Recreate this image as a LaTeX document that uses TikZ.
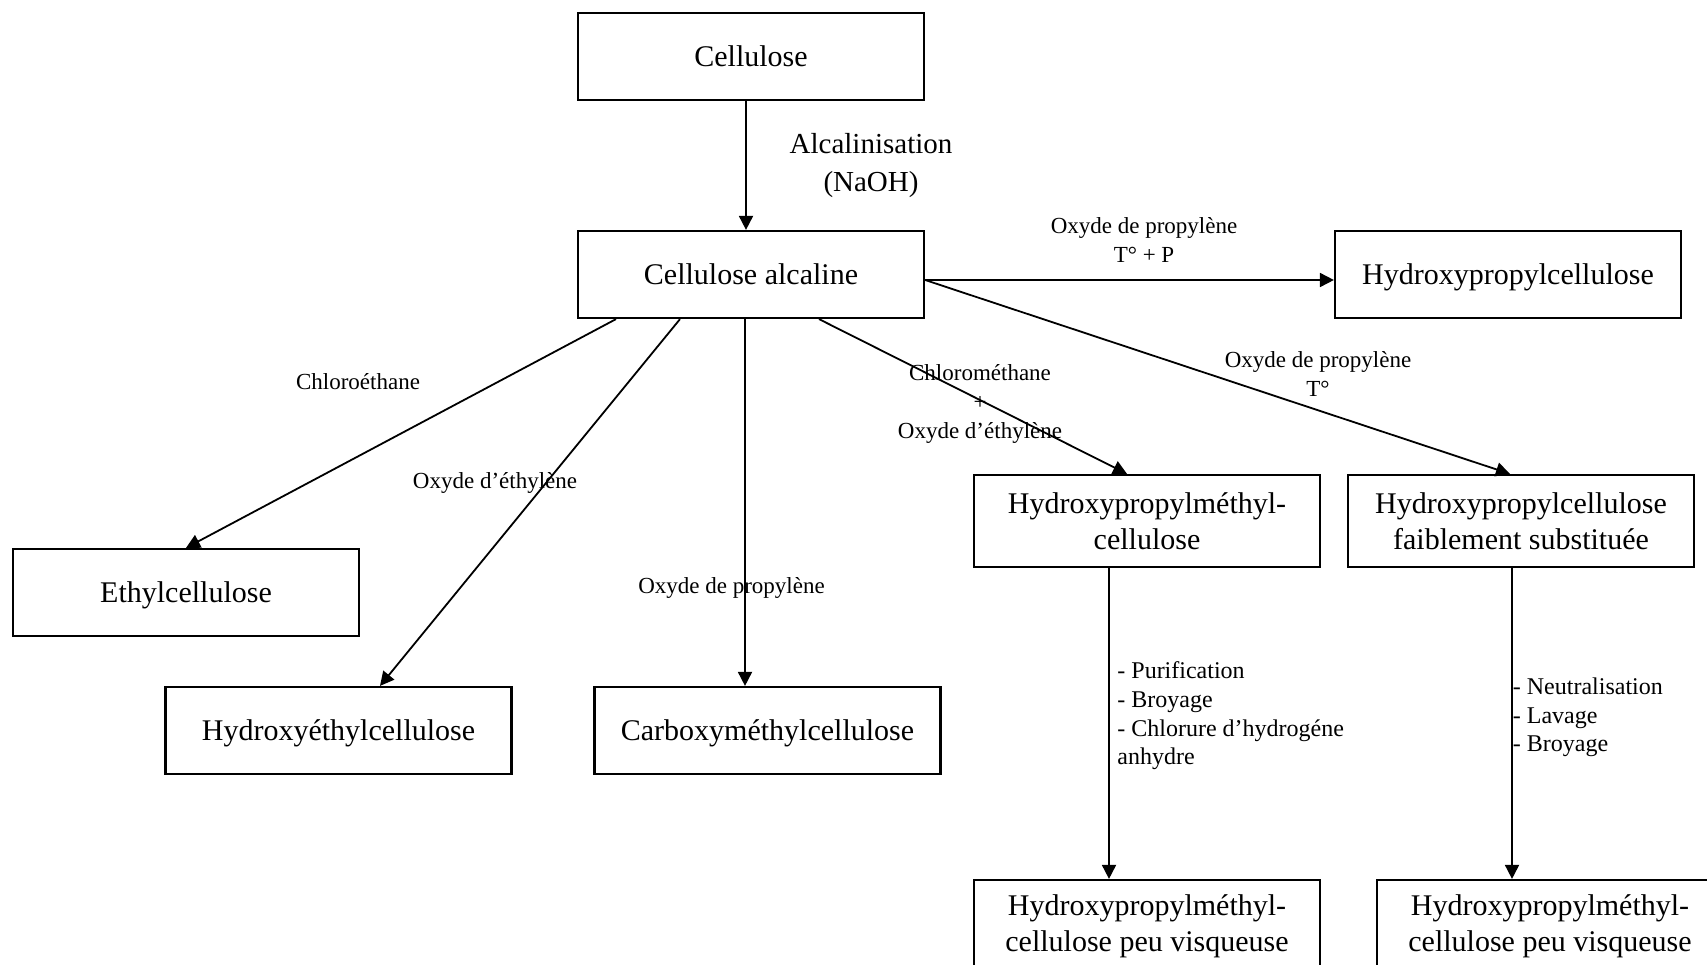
\documentclass[tikz,border=0pt]{standalone}
\usepackage{fontspec}
\setmainfont{Liberation Serif}
\usetikzlibrary{arrows.meta}
\tikzset{
  box/.style={draw, line width=1.1pt, minimum width=173pt, minimum height=43.5pt,
    font=\fontsize{15}{18}\selectfont, align=center, inner sep=0pt},
  box1/.style={box, text depth=0pt},
  box2/.style={box, minimum height=46pt},
  arr/.style={line width=0.9pt, -{Triangle[length=7pt,width=7pt]}},
  lab/.style={font=\fontsize{11.5}{14.5}\selectfont, align=center, inner sep=0pt},
  biglab/.style={font=\fontsize{14.5}{19}\selectfont, align=center, inner sep=0pt},
  lst/.style={font=\fontsize{12}{14.3}\selectfont, align=left, inner sep=0pt, anchor=west},
}
\begin{document}
\begin{tikzpicture}[x=0.5pt,y=-0.5pt]
\useasboundingbox (0,0) rectangle (1707,964);
\clip (0,0) rectangle (1707,964);
\fill[white] (0,0) rectangle (1707,964);
% boxes
\node[box1] (cel) at (751,56.5) {Cellulose};
\node[box1] (alc) at (751,274.5) {Cellulose alcaline};
\node[box1] (hpc) at (1508,274.5) {Hydroxypropylcellulose};
\node[box1] (eth) at (186,592.5) {Ethylcellulose};
\node[box1] (hec) at (338.5,730.5) {Hydroxyéthylcellulose};
\node[box1] (cmc) at (767.5,730.5) {Carboxyméthylcellulose};
\node[box2] (hpmc) at (1147,521) {Hydroxypropylméthyl-\\cellulose};
\node[box2] (hpcf) at (1521,521) {Hydroxypropylcellulose\\faiblement substituée};
\node[box2] (low1) at (1147,926) {Hydroxypropylméthyl-\\cellulose peu visqueuse};
\node[box2] (low2) at (1550,926) {Hydroxypropylméthyl-\\cellulose peu visqueuse};
% connectors
\draw[arr] ([xshift=-2.5pt]cel.south) -- ([xshift=-2.5pt]cel.south |- alc.north);
\coordinate (alcR) at ([yshift=-2.75pt]alc.east);
\draw[arr] (alcR) -- (alcR -| hpc.west);
\draw[arr] (alcR) -- ([xshift=-5.5pt]hpcf.north);
\draw[arr] ([xshift=-67.5pt]alc.south) -- (eth.north);
\draw[arr] ([xshift=-35.5pt]alc.south) -- ([xshift=20.75pt]hec.north);
\draw[arr] ([xshift=-3pt]alc.south) -- ([xshift=-3pt]alc.south |- cmc.north);
\draw[arr] ([xshift=34pt]alc.south) -- ([xshift=-10pt]hpmc.north);
\draw[arr] ([xshift=-19pt]hpmc.south) -- ([xshift=-19pt]hpmc.south |- low1.north);
\draw[arr] ([xshift=-4.5pt]hpcf.south) -- ([xshift=-4.5pt]hpcf.south |- low2.north);
% labels
\node[biglab] (l1) at (871,166) {Alcalinisation\\(NaOH)};
\node[lab] (l2) at (1144,239.5) {Oxyde de propylène\\T° + P};
\node[lab] (l3) at (358,382) {Chloroéthane};
\node[lab] (l4) at (495,483) {Oxyde d’éthylène};
\node[lab] (l5) at (731.5,588) {Oxyde de propylène};
\node[lab] (l6) at (980,404) {Chlorométhane\\+\\Oxyde d’éthylène};
\node[lab] (l7) at (1318,374) {Oxyde de propylène\\T°};
\node[lst] (l8) at (1117,716) {- Purification\\- Broyage\\- Chlorure d’hydrogéne\\anhydre};
\node[lst] (l9) at (1512.5,717.5) {- Neutralisation\\- Lavage\\- Broyage};
\end{tikzpicture}
\end{document}
